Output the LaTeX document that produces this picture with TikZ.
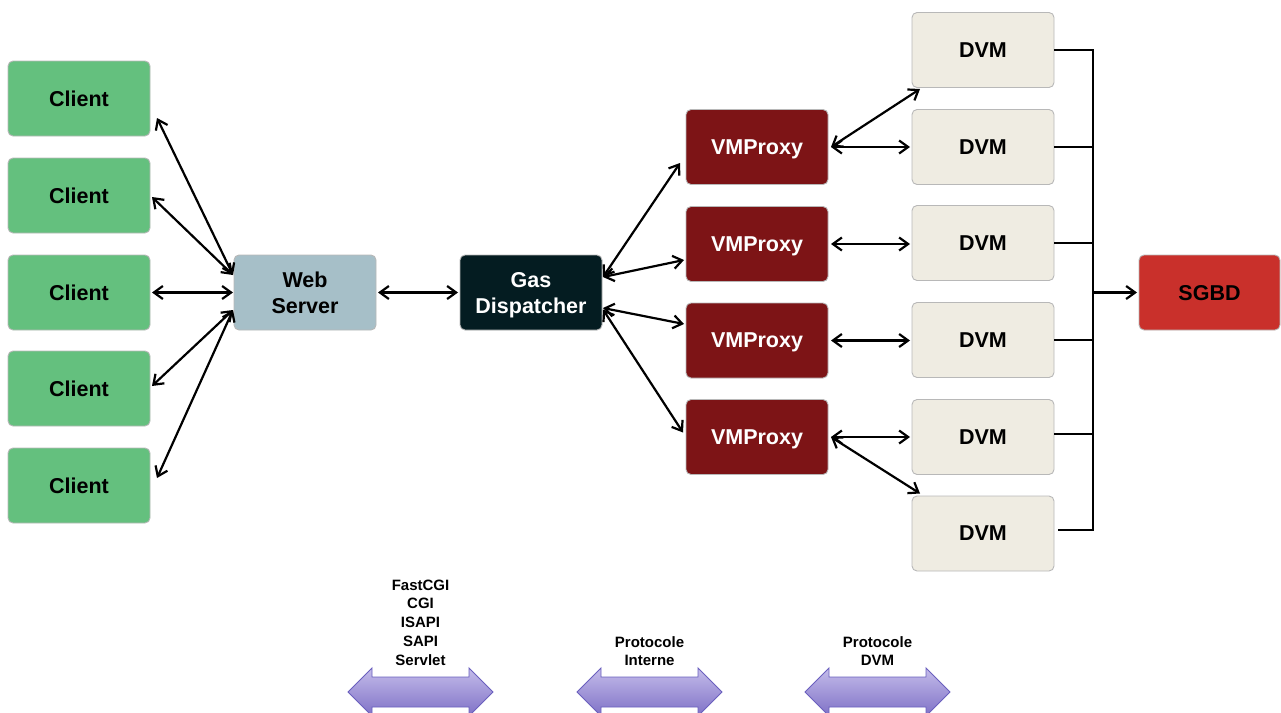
\documentclass[tikz,border=0pt]{standalone}
\usepackage{fontspec}
\setmainfont{Liberation Sans}
\usetikzlibrary{arrows.meta,calc}

\definecolor{clientgreen}{HTML}{64C07E}
\definecolor{webblue}{HTML}{A6BFC8}
\definecolor{dispatchdark}{HTML}{041C21}
\definecolor{proxyred}{HTML}{7D1416}
\definecolor{dvmbeige}{HTML}{EFECE2}
\definecolor{dbred}{HTML}{C9302B}
\definecolor{boxedge}{HTML}{B8B8B8}
\definecolor{bandtop}{HTML}{C4BCEA}
\definecolor{bandbottom}{HTML}{7F71C6}
\definecolor{bandedge}{HTML}{6A5FBE}

\begin{document}
\begin{tikzpicture}[x=1pt,y=-1pt,
  >={Straight Barb[length=9pt,width=13pt]},
  box/.style={draw=boxedge, line width=0.9pt, rounded corners=5pt,
    minimum width=142pt, minimum height=75pt, inner sep=0pt, outer sep=0pt,
    text depth=0pt, align=center, font=\bfseries\fontsize{21.5}{26}\selectfont},
  client/.style={box, fill=clientgreen},
  web/.style={box, fill=webblue},
  dispatch/.style={box, fill=dispatchdark, text=white},
  proxy/.style={box, fill=proxyred, text=white},
  dvm/.style={box, fill=dvmbeige},
  db/.style={box, fill=dbred, minimum width=141pt},
  conn/.style={line width=2.2pt, <->},
  wire/.style={line width=2.2pt},
  feed/.style={line width=2.2pt, ->},
  band/.style={top color=bandtop, bottom color=bandbottom, draw=bandedge, line width=0.9pt},
  tag/.style={inner sep=0pt, align=center, font=\bfseries\fontsize{15}{18.7}\selectfont}]

\useasboundingbox (0,0) rectangle (1281,712);

% clients
\node[client] (c1) at (79,98.5)  {Client};
\node[client] (c2) at (79,195.5) {Client};
\node[client] (c3) at (79,292.5) {Client};
\node[client] (c4) at (79,388.5) {Client};
\node[client] (c5) at (79,485.5) {Client};

% front end
\node[web] (ws) at (305,292.5) {Web\\Server};
\node[dispatch] (gd) at (531,292.5) {Gas\\Dispatcher};

% proxies
\node[proxy] (vp1) at (757,147)   {VMProxy};
\node[proxy] (vp2) at (757,244)   {VMProxy};
\node[proxy] (vp3) at (757,340.5) {VMProxy};
\node[proxy] (vp4) at (757,437)   {VMProxy};

% virtual machines
\node[dvm] (d1) at (983,50)    {DVM};
\node[dvm] (d2) at (983,147)   {DVM};
\node[dvm] (d3) at (983,243)   {DVM};
\node[dvm] (d4) at (983,340)   {DVM};
\node[dvm] (d5) at (983,437)   {DVM};
\node[dvm] (d6) at (983,533.5) {DVM};

% database
\node[db] (sg) at (1209.5,292.5) {SGBD};

% clients <-> web server
\draw[conn] ($(c1.east)+(7,19.5)$) -- ($(ws.west)+(-1,-17.5)$);
\draw[conn] ($(c2.east)+(2,1.5)$)  -- ($(ws.west)+(-1,-17.5)$);
\draw[conn] ($(c3.east)+(2,0)$)    -- ($(ws.west)+(-1,0)$);
\draw[conn] ($(c4.east)+(2,-2.5)$) -- ($(ws.west)+(-1,17.5)$);
\draw[conn] ($(c5.east)+(7,-7.5)$) -- ($(ws.west)+(-1,17.5)$);

% web server <-> dispatcher
\draw[conn] ($(ws.east)+(2,0)$) -- ($(gd.west)+(-2,0)$);

% dispatcher <-> proxies
\draw[conn] ($(gd.east)+(1,-15.5)$) -- ($(vp1.west)+(-6,16)$);
\draw[conn] ($(gd.east)+(1,-15.5)$) -- ($(vp2.west)+(-2,16)$);
\draw[conn] ($(gd.east)+(1,15.5)$)  -- ($(vp3.west)+(-2,-16.5)$);
\draw[conn] ($(gd.east)+(1,17)$)    -- ($(vp4.west)+(-3,-4.5)$);

% proxies <-> virtual machines
\draw[conn] ($(vp1.east)+(3,0)$) -- ($(d1.south west)+(8,1.5)$);
\draw[conn] ($(vp1.east)+(3,0)$) -- ($(d2.west)+(-2,0)$);
\draw[conn] ($(vp2.east)+(3,0)$) -- ($(d3.west)+(-2,1)$);
\draw[conn] ($(vp3.east)+(3,0)$) -- ($(d4.west)+(-2,0.5)$);
\draw[conn] ($(vp4.east)+(3,0)$) -- ($(d5.west)+(-2,0)$);
\draw[conn] ($(vp4.east)+(3,0)$) -- ($(d6.north west)+(8,-2.5)$);

% shared bus to the database
\coordinate (bt) at (1093,50);
\coordinate (bm) at (1093,292.5);
\coordinate (bb) at (1093,530);
\draw[wire, line join=miter] (d1.east) -- (bt) -- (bb) -- ($(d6.east)+(4,-3.5)$);
\draw[wire] (d2.east) -- (d2.east -| bm);
\draw[wire] (d3.east) -- (d3.east -| bm);
\draw[wire] (d4.east) -- (d4.east -| bm);
\draw[wire] ($(d5.east)+(0,-3)$) -- ($(d5.east -| bm)+(0,-3)$);
\draw[feed] (bm) -- ($(sg.west)+(-2,0)$);

% protocol bands
\foreach \x in {348,577,805}{
  \shade[band] (\x,692) -- (\x+24,668) -- (\x+24,677) -- (\x+121,677) -- (\x+121,668)
    -- (\x+145,692) -- (\x+121,716) -- (\x+121,707) -- (\x+24,707) -- (\x+24,716) -- cycle;
}
\node[tag] (p1) at (420.5,622.5) {FastCGI\\CGI\\ISAPI\\SAPI\\Servlet};
\node[tag] (p2) at (649.5,651) {Protocole\\Interne};
\node[tag] (p3) at (877.5,651) {Protocole\\DVM};

\end{tikzpicture}
\end{document}
